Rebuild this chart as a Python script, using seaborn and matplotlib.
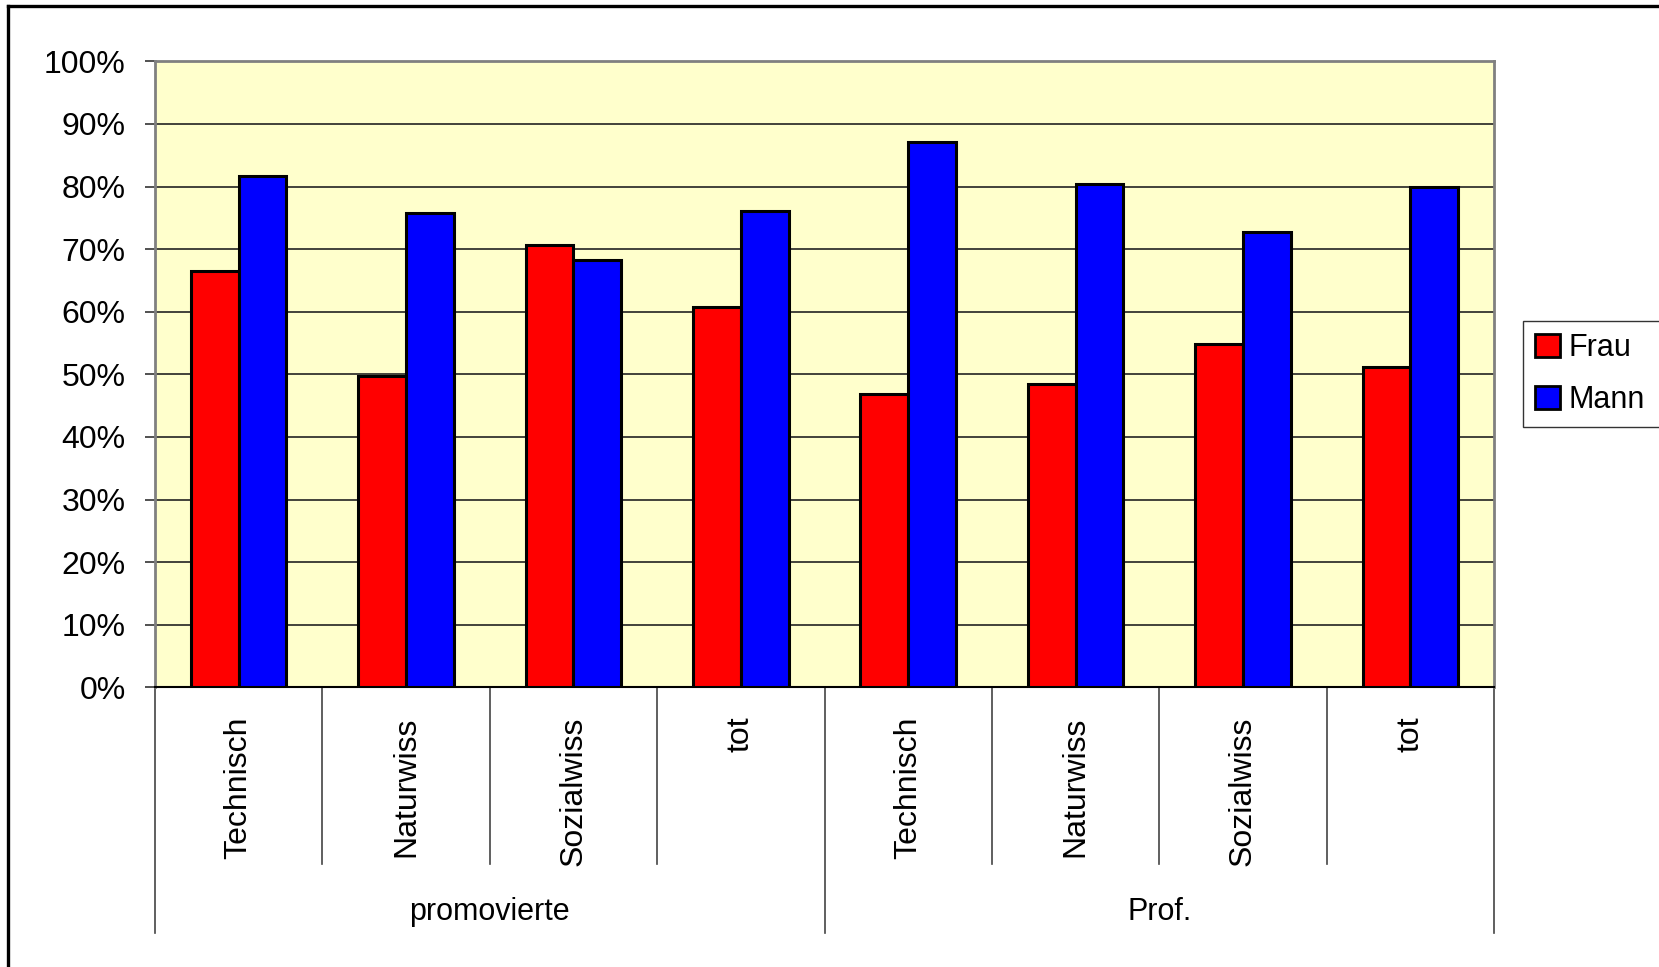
import matplotlib
matplotlib.use("Agg")
import matplotlib.pyplot as plt
import matplotlib.transforms as mtransforms
from matplotlib.lines import Line2D
from matplotlib.ticker import PercentFormatter, MultipleLocator
import seaborn as sns
import pandas as pd

# Data
groups = ["promovierte", "Prof."]
fields = ["Technisch", "Naturwiss", "Sozialwiss", "tot"]
series = ["Frau", "Mann"]
frau = [66.5, 49.8, 70.7, 60.7, 46.8, 48.5, 54.8, 51.1]
mann = [81.7, 75.8, 68.3, 76.1, 87.1, 80.4, 72.8, 79.9]
colors = {"Frau": "#FF0000", "Mann": "#0000FF"}

keys = [f"{g}|{f}" for g in groups for f in fields]
rows = []
for key, fv, mv in zip(keys, frau, mann):
    rows.append({"Kategorie": key, "Geschlecht": "Frau", "Anteil": fv})
    rows.append({"Kategorie": key, "Geschlecht": "Mann", "Anteil": mv})
df = pd.DataFrame(rows)

plt.rcParams["font.family"] = ["Liberation Sans", "DejaVu Sans"]

W, H = 1659, 967
fig = plt.figure(figsize=(W / 100, H / 100), dpi=100)
fig.patch.set_facecolor("white")

ax_l, ax_r, ax_t, ax_b = 155, 1494, 61.3, 687.3
ax = fig.add_axes([ax_l / W, 1 - ax_b / H, (ax_r - ax_l) / W, (ax_b - ax_t) / H])
ax.set_facecolor("#FFFFCC")

sns.barplot(data=df, x="Kategorie", y="Anteil", hue="Geschlecht",
            order=keys, hue_order=series, palette=colors, saturation=1,
            width=0.57, edgecolor="black", linewidth=2.2, ax=ax, zorder=3)

ax.set_xlim(-0.5, len(keys) - 0.5)
ax.set_ylim(0, 100)
ax.yaxis.set_major_locator(MultipleLocator(10))
ax.yaxis.set_major_formatter(PercentFormatter(decimals=0))
ax.grid(axis="y", color="#222222", linewidth=1.2, zorder=1)
ax.set_axisbelow(True)
ax.set_xlabel("")
ax.set_ylabel("")

for side in ["top", "right", "left"]:
    ax.spines[side].set_color("#808080")
    ax.spines[side].set_linewidth(2)
ax.spines["bottom"].set_color("black")
ax.spines["bottom"].set_linewidth(1.5)

ax.tick_params(axis="y", length=7, width=1.2, color="#333333", pad=14,
               labelsize=23, labelcolor="black")
ax.set_xticks(range(len(keys)))
ax.set_xticklabels([k.split("|")[1] for k in keys], rotation=90, va="top")
ax.tick_params(axis="x", length=0, pad=21, labelsize=23)

# Category table lines under the axis
trans = mtransforms.blended_transform_factory(ax.transData, ax.transAxes)
inner_end = -(864 - ax_b) / (ax_b - ax_t)
group_end = -(933 - ax_b) / (ax_b - ax_t)
n_per = len(fields)
for k in range(len(keys) + 1):
    x = k - 0.5
    y_end = group_end if k % n_per == 0 else inner_end
    ax.add_line(Line2D([x, x], [0, y_end], transform=trans, color="#444444",
                       linewidth=1.2, clip_on=False))

label_y = -(912 - ax_b) / (ax_b - ax_t)
for gi, g in enumerate(groups):
    cx = gi * n_per + (n_per - 1) / 2
    ax.text(cx, label_y, g, transform=trans, ha="center", va="center",
            fontsize=22, color="black")

# Legend
old = ax.get_legend()
if old is not None:
    old.remove()
handles, labels = ax.get_legend_handles_labels()
leg = fig.legend(handles[:2], labels[:2], loc="upper left", mode="expand",
                 bbox_to_anchor=(1523 / W, 1 - 321 / H, 180 / W, 0.0),
                 fontsize=22, frameon=True, fancybox=False, shadow=False,
                 handlelength=0.8, handleheight=0.8, handletextpad=0.3,
                 labelspacing=0.72, borderpad=0.4, borderaxespad=0)
leg.get_frame().set_edgecolor("black")
leg.get_frame().set_linewidth(1.0)
for p in leg.get_patches():
    p.set_edgecolor("black")
    p.set_linewidth(2)

# Outer frame
fig.add_artist(Line2D([8 / W, 8 / W], [0, 1 - 6 / H], transform=fig.transFigure,
                      color="black", linewidth=2.4))
fig.add_artist(Line2D([8 / W, 1], [1 - 6 / H, 1 - 6 / H], transform=fig.transFigure,
                      color="black", linewidth=2.4))

fig.savefig("out.png", dpi=100)
